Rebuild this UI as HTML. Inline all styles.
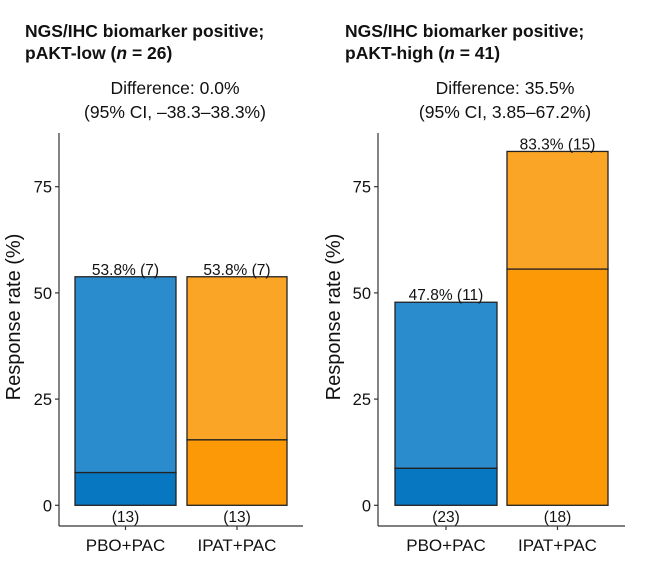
<!DOCTYPE html>
<html><head><meta charset="utf-8"><style>
body{margin:0;background:#fff;width:650px;height:559px;overflow:hidden}
svg text{font-family:"Liberation Sans",Arial,sans-serif;fill:#111}
</style></head><body>
<svg id="chart" width="650" height="559" viewBox="0 0 650 559" xmlns="http://www.w3.org/2000/svg"></svg>
<script>
const panelTitles1 = ["NGS/IHC biomarker positive;", "NGS/IHC biomarker positive;"];
const panelSubgroups = ["pAKT-low", "pAKT-high"];
const panelN = ["26", "41"];
const diffLines = ["Difference: 0.0%", "Difference: 35.5%"];
const ciLines = ["(95% CI, \u201338.3\u201338.3%)", "(95% CI, 3.85\u201367.2%)"];
const categories = ["PBO+PAC", "IPAT+PAC"];
const totalRates = [[53.8, 53.8], [47.8, 83.3]];
const lowerRates = [[7.7, 15.4], [8.7, 55.6]];
const responders = [[7, 7], [11, 15]];
const sampleSizes = [[13, 13], [23, 18]];
const yTicks = [0, 25, 50, 75];

const NS = "http://www.w3.org/2000/svg";
const svg = document.getElementById("chart");
function el(tag, attrs, parent) {
  const e = document.createElementNS(NS, tag);
  for (const k in attrs) e.setAttribute(k, attrs[k]);
  (parent || svg).appendChild(e);
  return e;
}
const y0 = 505.3, pxPerUnit = 4.248;
function yScale(v) { return y0 - v * pxPerUnit; }
const panels = [
  {axisX: 59, axisEnd: 303, titleX: 25, centerX: 175, ylabX: 20, bars: [[75, 176], [187, 287]]},
  {axisX: 378, axisEnd: 625, titleX: 345, centerX: 505, ylabX: 340, bars: [[395, 497], [507, 608]]}
];
const colors = [["#2a8bcd", "#0877c1"], ["#fba526", "#fb9906"]];

panels.forEach((p, pi) => {
  const g = el("g", {});
  
  
  const t1 = el("text", {x: p.titleX, y: 37, "font-size": 17.5, "font-weight": "bold"}, g);
  t1.textContent = panelTitles1[pi];
  
  
  const t2 = el("text", {x: p.titleX, y: 59, "font-size": 17.5, "font-weight": "bold"}, g);
  
  
  t2.innerHTML = panelSubgroups[pi] + ' (<tspan font-style="italic">n</tspan> = ' + panelN[pi] + ')';
  const d1 = el("text", {x: p.centerX, y: 94, "font-size": 17.5, "text-anchor": "middle"}, g);
  d1.textContent = diffLines[pi];
  
  
  const d2 = el("text", {x: p.centerX, y: 118, "font-size": 17.5, "text-anchor": "middle"}, g);
  d2.textContent = ciLines[pi];
  
  
  const ya = el("line", {x1: p.axisX, y1: 133, x2: p.axisX, y2: 526, stroke: "#333", "stroke-width": 1.2}, g);
  
  
  const xa = el("line", {x1: p.axisX, y1: 526, x2: p.axisEnd, y2: 526, stroke: "#333", "stroke-width": 1.2}, g);
  
  
  yTicks.forEach(v => {
    const y = yScale(v);
    const tk = el("line", {x1: p.axisX - 4, y1: y, x2: p.axisX, y2: y, stroke: "#333", "stroke-width": 1.2}, g);
    
    
    const tl = el("text", {x: p.axisX - 7, y: y + 6, "font-size": 16.5, "text-anchor": "end", fill: "#222"}, g);
    tl.textContent = v;
    
    
  });
  const yl = el("text", {x: 0, y: 0, "font-size": 20, "text-anchor": "middle", transform: "translate(" + p.ylabX + ",317) rotate(-90)"}, g);
  yl.textContent = "Response rate (%)";
  
  
  categories.forEach((c, ci) => {
    const [x1, x2] = p.bars[ci];
    const w = x2 - x1, cx = (x1 + x2) / 2;
    const top = yScale(totalRates[pi][ci]), mid = yScale(lowerRates[pi][ci]);
    const up = el("rect", {x: x1, y: top, width: w, height: mid - top, fill: colors[ci][0], stroke: "#222", "stroke-width": 1.3}, g);
    
    
    const lo = el("rect", {x: x1, y: mid, width: w, height: y0 - mid, fill: colors[ci][1], stroke: "#222", "stroke-width": 1.3}, g);
    
    
    const vl = el("text", {x: cx, y: top - 2, "font-size": 15.5, "text-anchor": "middle", fill: "#222"}, g);
    vl.textContent = totalRates[pi][ci].toFixed(1) + "% (" + responders[pi][ci] + ")";
    
    
    const nl = el("text", {x: cx, y: 522, "font-size": 15.5, "text-anchor": "middle", fill: "#222"}, g);
    nl.textContent = "(" + sampleSizes[pi][ci] + ")";
    
    
    const tk = el("line", {x1: cx, y1: 526, x2: cx, y2: 530, stroke: "#333", "stroke-width": 1.2}, g);
    
    
    const xl = el("text", {x: cx, y: 551, "font-size": 17, "text-anchor": "middle", fill: "#222"}, g);
    xl.textContent = c;
    
    
  });
});
</script>
</body></html>
